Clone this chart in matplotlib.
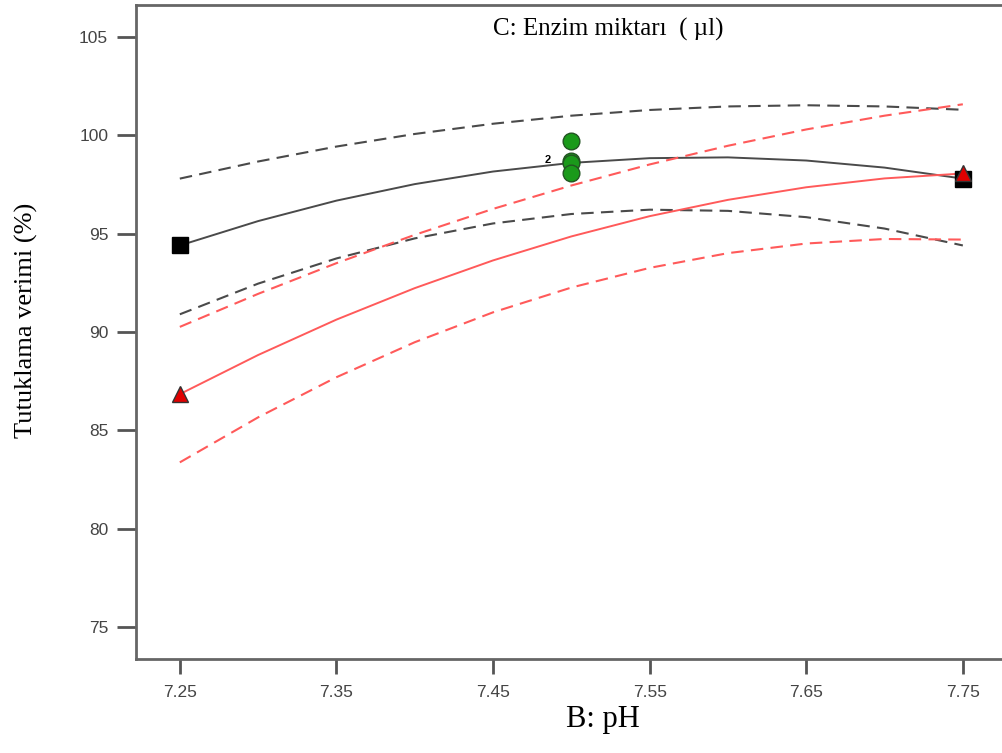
import matplotlib
matplotlib.use("Agg")
import matplotlib.pyplot as plt

ph = [7.25, 7.30, 7.35, 7.40, 7.45, 7.50, 7.55, 7.60, 7.65, 7.70, 7.75]

# black group (fit + confidence band)
black_fit = [94.40, 95.64, 96.68, 97.52, 98.16, 98.60, 98.84, 98.88, 98.72, 98.36, 97.80]
black_hi = [97.80, 98.67, 99.43, 100.07, 100.59, 101.00, 101.29, 101.47, 101.53, 101.47, 101.30]
black_lo = [90.90, 92.46, 93.74, 94.76, 95.52, 96.00, 96.22, 96.16, 95.84, 95.26, 94.40]

# red group (fit + confidence band)
red_fit = [86.84, 88.83, 90.63, 92.23, 93.64, 94.86, 95.89, 96.72, 97.36, 97.81, 98.06]
red_hi = [90.26, 91.94, 93.50, 94.94, 96.26, 97.45, 98.52, 99.47, 100.30, 101.00, 101.58]
red_lo = [83.37, 85.66, 87.70, 89.48, 91.00, 92.26, 93.26, 94.01, 94.50, 94.73, 94.70]

# design points
sq_x = [7.25, 7.75]
sq_y = [94.40, 97.80]
tri_x = [7.25, 7.75]
tri_y = [86.84, 98.06]
center_x = [7.50, 7.50, 7.50, 7.50]
center_y = [99.70, 98.70, 98.60, 98.10]

yticks = [75, 80, 85, 90, 95, 100, 105]
xticks = [7.25, 7.35, 7.45, 7.55, 7.65, 7.75]

fig = plt.figure(figsize=(10.02, 7.53), dpi=100)
ax = fig.add_axes([0.1357, 0.1248, 0.8643, 0.8686])

gray = "#4a4a4a"
red = "#ff5a5a"
dash = (0, (6, 3.5))

ax.plot(ph, black_hi, color=gray, lw=1.5, linestyle=dash)
ax.plot(ph, black_lo, color=gray, lw=1.5, linestyle=dash)
ax.plot(ph, black_fit, color=gray, lw=1.4)
ax.plot(ph, red_hi, color=red, lw=1.5, linestyle=dash)
ax.plot(ph, red_lo, color=red, lw=1.5, linestyle=dash)
ax.plot(ph, red_fit, color=red, lw=1.4)

ax.plot(sq_x, sq_y, linestyle="none", marker="s", ms=11, color="black", zorder=5)
ax.plot(tri_x, tri_y, linestyle="none", marker="^", ms=11, color="#e00000",
        markeredgecolor="#333333", zorder=6)
ax.plot(center_x, center_y, linestyle="none", marker="o", ms=12, color="#1a9a1a",
        markeredgecolor="#225522", zorder=5)
ax.text(7.487, 98.75, "2", fontsize=8, fontweight="bold", ha="right", va="center",
        family="Liberation Sans")

ax.set_xlim(7.222, 7.775)
ax.set_ylim(73.37, 106.63)
ax.set_xticks(xticks)
ax.set_xticklabels([f"{v:.2f}" for v in xticks])
ax.set_yticks(yticks)

for lab in ax.get_xticklabels() + ax.get_yticklabels():
    lab.set_family("Liberation Sans")
    lab.set_fontsize(12.5)
    lab.set_color("#444444")

ax.tick_params(axis="y", direction="out", length=14, width=2, color="#555555", pad=6)
ax.tick_params(axis="x", direction="out", length=11, width=2, color="#555555", pad=8)

for side in ["left", "bottom", "top"]:
    ax.spines[side].set_color("#666666")
    ax.spines[side].set_linewidth(2)
ax.spines["right"].set_visible(False)

ax.text(0.545, 0.962, "C: Enzim miktarı  ( µl)", transform=ax.transAxes,
        ha="center", va="center", fontsize=18, family="Liberation Serif")

fig.text(0.026, 0.575, "Tutuklama verimi (%)", rotation=90, ha="center", va="center",
         fontsize=19, family="Liberation Serif")
fig.text(0.602, 0.045, "B: pH", ha="center", va="center", fontsize=22,
         family="Liberation Serif")

fig.savefig("out.png", dpi=100)
